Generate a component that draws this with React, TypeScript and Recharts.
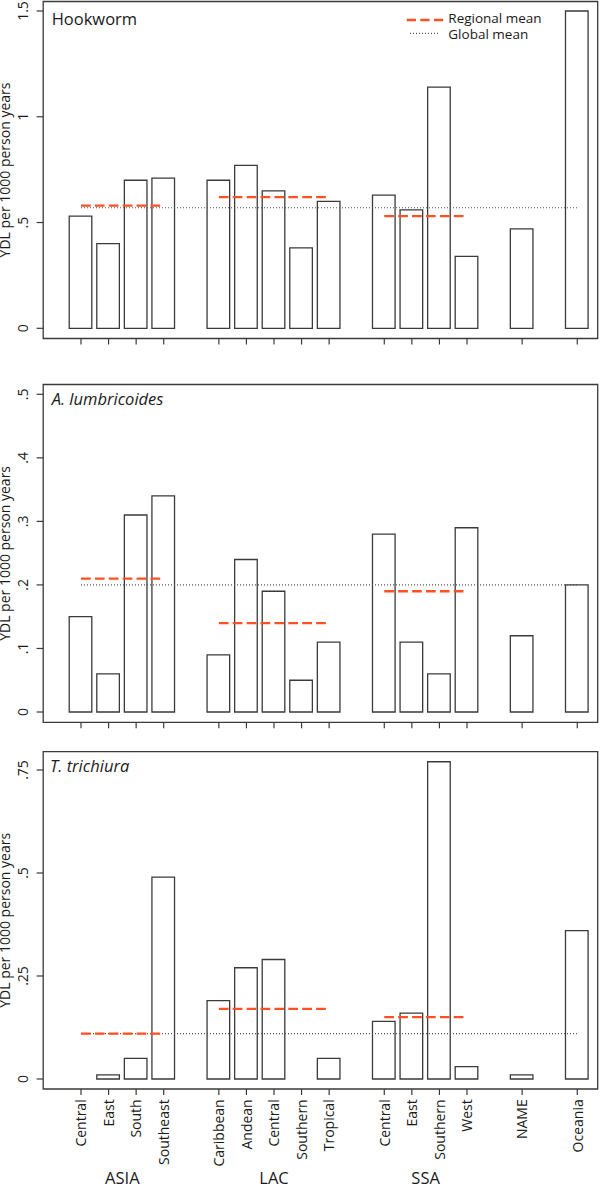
import React from 'react';
import { ComposedChart, Bar, XAxis, YAxis, ReferenceLine, ReferenceArea } from 'recharts';

// ---- data ----
const regionNames = ['Central', 'East', 'South', 'Southeast', 'Caribbean', 'Andean', 'Central', 'Southern', 'Tropical', 'Central', 'East', 'Southern', 'West', 'NAME', 'Oceania'];
const regionGroups = ['ASIA', 'ASIA', 'ASIA', 'ASIA', 'LAC', 'LAC', 'LAC', 'LAC', 'LAC', 'SSA', 'SSA', 'SSA', 'SSA', 'NAME', 'Oceania'];
const labeledGroups = ['ASIA', 'LAC', 'SSA'];

const hookwormValues = [0.53, 0.40, 0.70, 0.71, 0.70, 0.77, 0.65, 0.38, 0.60, 0.63, 0.56, 1.14, 0.34, 0.47, 1.50];
const ascarisValues = [0.15, 0.06, 0.31, 0.34, 0.09, 0.24, 0.19, 0.05, 0.11, 0.28, 0.11, 0.06, 0.29, 0.12, 0.20];
const trichurisValues = [null, 0.01, 0.05, 0.49, 0.19, 0.27, 0.29, null, 0.05, 0.14, 0.16, 0.77, 0.03, 0.01, 0.36];

const hookwormRegionalMeans = [0.58, 0.62, 0.53];
const ascarisRegionalMeans = [0.21, 0.14, 0.19];
const trichurisRegionalMeans = [0.11, 0.17, 0.15];
const globalMeans = [0.57, 0.20, 0.11];

const hookwormTicks = [0, 0.5, 1, 1.5];
const hookwormTickLabels = ['0', '.5', '1', '1.5'];
const ascarisTicks = [0, 0.1, 0.2, 0.3, 0.4, 0.5];
const ascarisTickLabels = ['0', '.1', '.2', '.3', '.4', '.5'];
const trichurisTicks = [0, 0.25, 0.5, 0.75];
const trichurisTickLabels = ['0', '.25', '.5', '.75'];

const yTitle = 'YDL per 1000 person years';
const legendLabels = ['Regional mean', 'Global mean'];

// ---- derived slot positions (one empty slot between groups) ----
const slots: number[] = [];
regionGroups.forEach((g, i) => {
  if (i === 0) slots.push(0);
  else slots.push(slots[i - 1] + (g === regionGroups[i - 1] ? 1 : 2));
});
const firstSlot = slots[0];
const lastSlot = slots[slots.length - 1];
const groupSpans = labeledGroups.map((g) => {
  const idx = regionGroups.map((rg, i) => (rg === g ? i : -1)).filter((i) => i >= 0);
  return { name: g, first: slots[idx[0]], last: slots[idx[idx.length - 1]] };
});
const xDomain = [firstSlot - 1.371, lastSlot + 0.741];

const FONT = '"Open Sans", "DejaVu Sans", sans-serif';
const INK = '#1a1a1a';
const LINE = '#3a3a3a';
const ORANGE = '#ff5022';

const panels = [
  { title: 'Hookworm', italic: false, values: hookwormValues, means: hookwormRegionalMeans, global: globalMeans[0], ticks: hookwormTicks, tickLabels: hookwormTickLabels, domain: [-0.0482, 1.545], top: 0, height: 350, marginTop: 1.5, xHeight: 11.5, showLabels: false, titleX: 51.7, titleY: 25 },
  { title: 'A. lumbricoides', italic: true, values: ascarisValues, means: ascarisRegionalMeans, global: globalMeans[1], ticks: ascarisTicks, tickLabels: ascarisTickLabels, domain: [-0.0162, 0.5154], top: 380, height: 355, marginTop: 4.5, xHeight: 12.7, showLabels: false, titleX: 51.7, titleY: 405 },
  { title: 'T. trichiura', italic: true, values: trichurisValues, means: trichurisRegionalMeans, global: globalMeans[2], ticks: trichurisTicks, tickLabels: trichurisTickLabels, domain: [-0.0243, 0.7944], top: 745, height: 441, marginTop: 6.7, xHeight: 97, showLabels: true, titleX: 50, titleY: 771.7 },
];

function Panel({ p }: { p: any }) {
  const data = regionNames.map((name, i) => ({ x: slots[i], v: p.values[i], name }));
  return (
    <div style={{ position: 'absolute', left: 0, top: p.top }}>
      <ComposedChart width={600} height={p.height} data={data} margin={{ top: p.marginTop, right: 2.3, bottom: 0, left: 0 }}>
        <XAxis
          dataKey="x"
          type="number"
          domain={xDomain}
          allowDataOverflow
          ticks={slots}
          interval={0}
          height={p.xHeight}
          axisLine={false}
          tickSize={6}
          tickMargin={4.3}
          tickLine={{ stroke: LINE, strokeWidth: 1.2 }}
          tick={(tp: any) => {
            if (!p.showLabels) return <g />;
            const i = slots.indexOf(tp.payload.value);
            return (
              <text x={tp.x} y={tp.y} dy={5.3} transform={`rotate(-90, ${tp.x}, ${tp.y})`} textAnchor="end" fontSize={14} fontFamily={FONT} fill={INK}>
                {regionNames[i]}
              </text>
            );
          }}
        />
        <YAxis
          type="number"
          domain={p.domain}
          allowDataOverflow
          ticks={p.ticks}
          interval={0}
          width={43.2}
          axisLine={false}
          tickSize={6.6}
          tickMargin={8.3}
          tickLine={{ stroke: LINE, strokeWidth: 1.2 }}
          tick={(tp: any) => {
            const i = p.ticks.indexOf(tp.payload.value);
            return (
              <text x={tp.x} y={tp.y} transform={`rotate(-90, ${tp.x}, ${tp.y})`} textAnchor="middle" fontSize={14} fontFamily={FONT} fill={INK}>
                {p.tickLabels[i]}
              </text>
            );
          }}
          label={{ value: yTitle, angle: -90, position: 'insideLeft', offset: 5, style: { textAnchor: 'middle', fontSize: 14, fontFamily: FONT, fill: INK } }}
        />
        <ReferenceArea x1={xDomain[0]} x2={xDomain[1]} y1={p.domain[0]} y2={p.domain[1]} fill="none" stroke={LINE} strokeWidth={1.3} ifOverflow="visible" />
        <Bar dataKey="v" barSize={22.6} fill="none" stroke={LINE} strokeWidth={1.3} isAnimationActive={false} />
        <ReferenceLine
          segment={[{ x: firstSlot, y: p.global }, { x: lastSlot, y: p.global }]}
          stroke="#555"
          strokeWidth={1.2}
          strokeDasharray="1 2"
          ifOverflow="visible"
        />
        {groupSpans.map((s, i) => (
          <ReferenceLine
            key={s.name}
            segment={[{ x: s.first, y: p.means[i] }, { x: s.last, y: p.means[i] }]}
            stroke={ORANGE}
            strokeWidth={2.3}
            strokeDasharray="9.7 4.2"
            ifOverflow="visible"
          />
        ))}
        {p.showLabels &&
          groupSpans.map((s) => (
            <ReferenceLine
              key={'lbl-' + s.name}
              segment={[{ x: s.first, y: p.domain[0] }, { x: s.last, y: p.domain[0] }]}
              stroke="none"
              ifOverflow="visible"
              label={{ value: s.name, position: 'bottom', offset: 83.5, fontSize: 16.5, fontFamily: FONT, fill: INK }}
            />
          ))}
      </ComposedChart>
    </div>
  );
}

export default function App() {
  return (
    <div style={{ position: 'relative', width: 600, height: 1186, background: '#fff', overflow: 'hidden' }}>
      <style>{'body{margin:0;background:#fff}'}</style>
      {panels.map((p) => (
        <Panel key={p.title} p={p} />
      ))}
      <svg width={600} height={1186} style={{ position: 'absolute', left: 0, top: 0, pointerEvents: 'none' }}>
        {panels.map((p) => (
          <text key={p.title} x={p.titleX} y={p.titleY} fontSize={16.5} fontStyle={p.italic ? 'italic' : 'normal'} fontFamily={FONT} fill={INK}>
            {p.title}
          </text>
        ))}
        <line x1={406.7} x2={443.3} y1={20} y2={20} stroke={ORANGE} strokeWidth={2.3} strokeDasharray="9.3 4.3" />
        <line x1={410} x2={440} y1={33.3} y2={33.3} stroke="#555" strokeWidth={1.2} strokeDasharray="1 2" />
        <text x={448.3} y={23} fontSize={13.5} fontFamily={FONT} fill={INK}>{legendLabels[0]}</text>
        <text x={448.3} y={38.8} fontSize={13.5} fontFamily={FONT} fill={INK}>{legendLabels[1]}</text>
      </svg>
    </div>
  );
}
